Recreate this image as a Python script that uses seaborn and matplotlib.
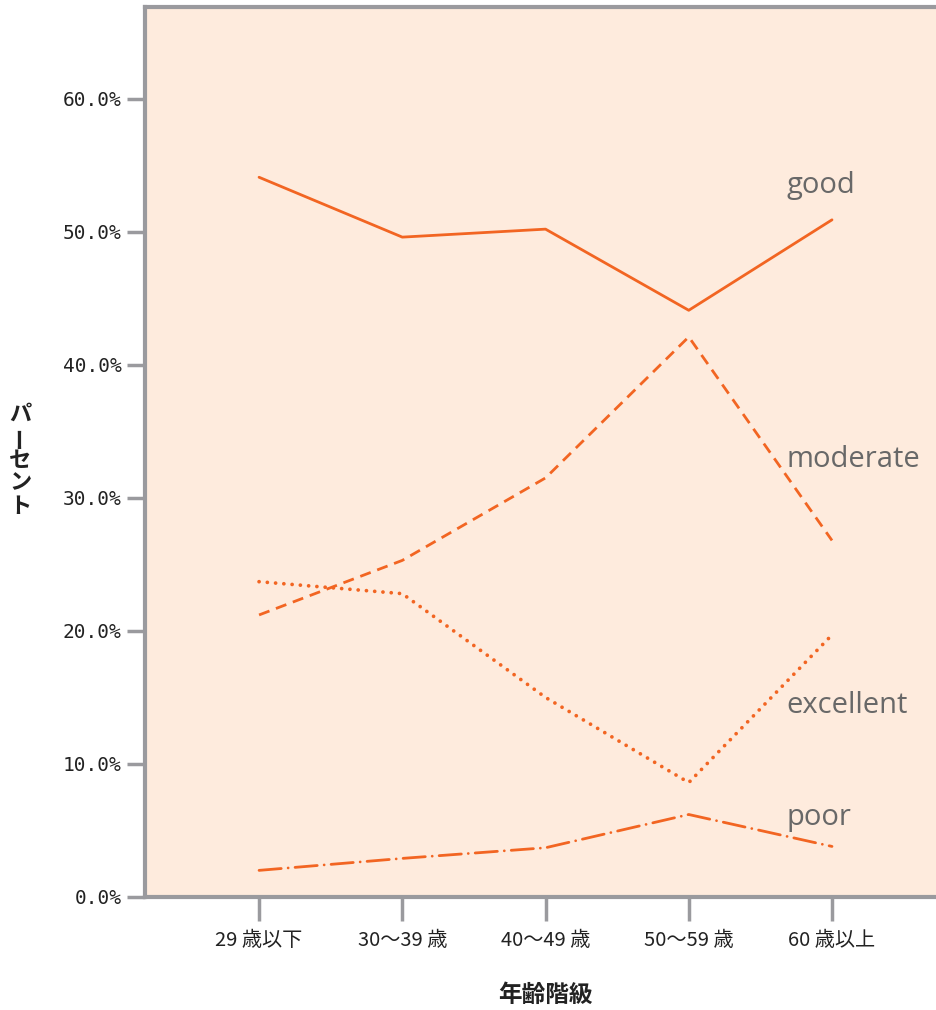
import numpy as np
import pandas as pd
import matplotlib.pyplot as plt
import seaborn as sns

# age groups and percentage per rating
age_groups = ["29 歳以下", "30～39 歳", "40～49 歳", "50～59 歳", "60 歳以上"]
good = [54.1, 49.6, 50.2, 44.1, 50.9]
moderate = [21.2, 25.3, 31.5, 42.1, 26.8]
excellent = [23.7, 22.8, 15.0, 8.6, 19.7]
poor = [2.0, 2.9, 3.7, 6.2, 3.8]
y_ticks = [0, 10, 20, 30, 40, 50, 60]

series = {"good": good, "moderate": moderate, "excellent": excellent, "poor": poor}
label_y = {"good": 52.9, "moderate": 32.3, "excellent": 13.8, "poor": 5.4}
styles = {
    "good": dict(linestyle="-"),
    "moderate": dict(linestyle=(0, (4, 2.5))),
    "excellent": dict(linestyle=(0, (0.01, 2.2)), dash_capstyle="round", linewidth=2.7),
    "poor": dict(linestyle=(0, (8, 2.5, 0.01, 2.5)), dash_capstyle="round"),
}

rows = []
for name, vals in series.items():
    for i, v in enumerate(vals):
        rows.append({"series": name, "x": i, "pct": v})
df = pd.DataFrame(rows)

sns.set_style("white")
plt.rcParams["font.family"] = ["Noto Sans CJK JP", "DejaVu Sans"]

fig = plt.figure(figsize=(9.37, 10.1), dpi=100)
ax = fig.add_axes([0.1548, 0.1119, 0.86, 0.8812])
ax.set_facecolor("#FEEBDD")

line_color = "#F26522"
for name in series:
    st = dict(linewidth=2.0)
    st.update(styles[name])
    sns.lineplot(data=df[df["series"] == name], x="x", y="pct", ax=ax,
                 color=line_color, legend=False, **st)
    ax.text(3.68, label_y[name], name, fontsize=21, color="#686868",
            family=["Open Sans", "DejaVu Sans"],
            va="baseline", ha="left")

ax.set_xlim(-0.796, 4.83)
ax.set_ylim(0, 66.9)
ax.set_xticks(range(len(age_groups)))
ax.set_xticklabels(age_groups, fontsize=14.5, color="#222222")
ax.set_yticks(y_ticks)
ax.set_yticklabels([f"{t:.1f}%" for t in y_ticks], fontsize=14,
                   family=["DejaVu Sans Mono"], color="#222222")

grey = "#9a9a9e"
for side in ["left", "bottom", "top"]:
    ax.spines[side].set_color(grey)
    ax.spines[side].set_linewidth(3)
ax.spines["right"].set_visible(False)
ax.tick_params(axis="x", bottom=True, length=17, width=2.5, color=grey, pad=7)
ax.tick_params(axis="y", left=True, length=13, width=2.5, color=grey, pad=4)

ax.set_xlabel("")
ax.set_ylabel("")
fig.text(0.582, 0.0149, "年齢階級", fontsize=17, fontweight="bold",
         ha="center", va="center", color="#222222")

# vertical y label, one character per row
for k, ch in enumerate("パーセント"):
    fig.text(0.0215, (1010 - 414 - k * 23) / 1010, ch, fontsize=16, fontweight="bold",
             ha="center", va="center", color="#222222",
             rotation=90 if ch == "ー" else 0)

fig.savefig("out.png", dpi=100)
